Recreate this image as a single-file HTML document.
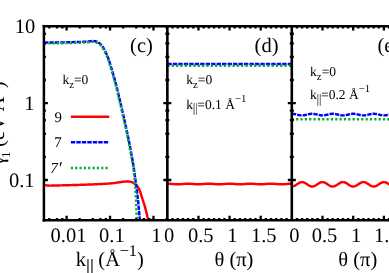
<!DOCTYPE html>
<html><head><meta charset="utf-8"><title>chart</title>
<style>html,body{margin:0;padding:0;background:#fff;overflow:hidden}body{width:389px;height:273px;font-family:"Liberation Serif",serif}.t text{font-family:"Liberation Serif",serif;text-rendering:geometricPrecision}</style></head>
<body>
<svg width="389" height="273" viewBox="0 0 389 273" style="display:block;will-change:transform">
<rect width="389" height="273" fill="#fff"/>
<clipPath id="cp"><rect x="43.9" y="26.15" width="400" height="194.1"/></clipPath>
<g clip-path="url(#cp)" fill="none" stroke-linejoin="round">
<path d="M44.20,185.00 L44.88,185.10 L45.55,185.20 L46.23,185.30 L46.90,185.38 L47.58,185.46 L48.26,185.52 L48.94,185.57 L49.61,185.60 L50.29,185.60 L50.97,185.60 L51.65,185.59 L52.33,185.58 L53.01,185.57 L53.69,185.56 L54.37,185.54 L55.05,185.53 L55.73,185.51 L56.41,185.49 L57.10,185.47 L57.78,185.46 L58.46,185.44 L59.14,185.42 L59.82,185.40 L60.50,185.39 L61.18,185.37 L61.86,185.36 L62.54,185.34 L63.22,185.32 L63.90,185.31 L64.58,185.29 L65.26,185.27 L65.94,185.26 L66.62,185.24 L67.30,185.22 L67.98,185.20 L68.66,185.18 L69.34,185.16 L70.02,185.14 L70.70,185.13 L71.38,185.11 L72.06,185.09 L72.74,185.07 L73.42,185.05 L74.10,185.03 L74.78,185.01 L75.46,184.99 L76.15,184.97 L76.83,184.94 L77.51,184.92 L78.19,184.90 L78.87,184.88 L79.55,184.86 L80.23,184.84 L80.91,184.82 L81.59,184.80 L82.27,184.78 L82.95,184.75 L83.63,184.73 L84.31,184.71 L84.99,184.69 L85.67,184.66 L86.35,184.64 L87.03,184.61 L87.71,184.59 L88.39,184.57 L89.07,184.54 L89.75,184.52 L90.43,184.49 L91.11,184.46 L91.79,184.44 L92.47,184.41 L93.15,184.38 L93.83,184.35 L94.51,184.32 L95.19,184.29 L95.87,184.26 L96.55,184.23 L97.23,184.20 L97.91,184.17 L98.59,184.14 L99.27,184.11 L99.95,184.07 L100.63,184.04 L101.31,184.01 L101.99,183.97 L102.67,183.94 L103.35,183.90 L104.03,183.86 L104.71,183.82 L105.39,183.78 L106.07,183.74 L106.75,183.69 L107.43,183.65 L108.10,183.60 L108.78,183.56 L109.46,183.51 L110.14,183.45 L110.82,183.40 L111.49,183.34 L112.17,183.28 L112.85,183.22 L113.52,183.14 L114.20,183.05 L114.87,182.96 L115.54,182.86 L116.22,182.76 L116.89,182.65 L117.56,182.55 L118.24,182.45 L118.91,182.35 L119.58,182.25 L120.26,182.17 L120.93,182.08 L121.61,181.99 L122.28,181.90 L122.96,181.82 L123.64,181.74 L124.31,181.67 L124.99,181.60 L125.67,181.54 L126.35,181.47 L127.03,181.42 L127.70,181.40 L128.38,181.42 L129.07,181.50 L129.74,181.62 L130.41,181.76 L131.06,181.92 L131.71,182.12 L132.34,182.38 L132.96,182.69 L133.56,183.03 L134.13,183.38 L134.69,183.77 L135.24,184.19 L135.76,184.65 L136.25,185.13 L136.69,185.62 L137.12,186.13 L137.53,186.67 L137.93,187.23 L138.32,187.81 L138.68,188.41 L139.02,189.01 L139.34,189.62 L139.63,190.23 L139.90,190.84 L140.14,191.46 L140.36,192.10 L140.56,192.75 L140.76,193.40 L140.94,194.06 L141.13,194.72 L141.31,195.39 L141.50,196.05 L141.70,196.70 L141.91,197.35 L142.12,197.99 L142.33,198.64 L142.54,199.29 L142.76,199.93 L142.98,200.58 L143.19,201.23 L143.41,201.87 L143.62,202.52 L143.84,203.17 L144.04,203.81 L144.25,204.46 L144.45,205.11 L144.65,205.76 L144.84,206.41 L145.02,207.07 L145.20,207.72 L145.37,208.38 L145.55,209.04 L145.72,209.70 L145.89,210.35 L146.06,211.01 L146.23,211.67 L146.39,212.34 L146.55,213.00 L146.71,213.66 L146.86,214.32 L147.02,214.99 L147.17,215.65 L147.32,216.32 L147.47,216.98 L147.61,217.65 L147.75,218.31 L147.89,218.98 L148.03,219.64 L148.16,220.31 L148.29,220.98 L148.42,221.65 L148.54,222.32 L148.66,222.99 L148.78,223.66 L148.89,224.33 L149.00,225.00" stroke="#ff0000" stroke-width="2.45"/>
<path d="M167.35,183.70 L167.98,183.71 L168.60,183.72 L169.23,183.75 L169.85,183.78 L170.48,183.82 L171.10,183.87 L171.73,183.93 L172.35,183.98 L172.98,184.04 L173.60,184.10 L174.23,184.15 L174.85,184.19 L175.48,184.23 L176.11,184.26 L176.73,184.29 L177.36,184.30 L177.98,184.30 L178.61,184.29 L179.23,184.27 L179.86,184.24 L180.48,184.20 L181.11,184.16 L181.73,184.10 L182.36,184.05 L182.98,183.99 L183.61,183.94 L184.24,183.88 L184.86,183.83 L185.49,183.79 L186.11,183.75 L186.74,183.72 L187.36,183.71 L187.99,183.70 L188.61,183.70 L189.24,183.72 L189.86,183.74 L190.49,183.78 L191.11,183.82 L191.74,183.87 L192.37,183.92 L192.99,183.97 L193.62,184.03 L194.24,184.09 L194.87,184.14 L195.49,184.19 L196.12,184.23 L196.74,184.26 L197.37,184.28 L197.99,184.30 L198.62,184.30 L199.24,184.29 L199.87,184.27 L200.49,184.24 L201.12,184.21 L201.75,184.16 L202.37,184.11 L203.00,184.06 L203.62,184.00 L204.25,183.95 L204.87,183.89 L205.50,183.84 L206.12,183.80 L206.75,183.76 L207.37,183.73 L208.00,183.71 L208.62,183.70 L209.25,183.70 L209.88,183.71 L210.50,183.74 L211.13,183.77 L211.75,183.81 L212.38,183.86 L213.00,183.91 L213.63,183.96 L214.25,184.02 L214.88,184.08 L215.50,184.13 L216.13,184.18 L216.75,184.22 L217.38,184.26 L218.01,184.28 L218.63,184.30 L219.26,184.30 L219.88,184.29 L220.51,184.28 L221.13,184.25 L221.76,184.21 L222.38,184.17 L223.01,184.12 L223.63,184.07 L224.26,184.01 L224.88,183.96 L225.51,183.90 L226.14,183.85 L226.76,183.80 L227.39,183.76 L228.01,183.73 L228.64,183.71 L229.26,183.70 L229.89,183.70 L230.51,183.71 L231.14,183.73 L231.76,183.76 L232.39,183.80 L233.01,183.85 L233.64,183.90 L234.27,183.96 L234.89,184.01 L235.52,184.07 L236.14,184.12 L236.77,184.17 L237.39,184.21 L238.02,184.25 L238.64,184.28 L239.27,184.29 L239.89,184.30 L240.52,184.30 L241.14,184.28 L241.77,184.26 L242.40,184.22 L243.02,184.18 L243.65,184.13 L244.27,184.08 L244.90,184.02 L245.52,183.96 L246.15,183.91 L246.77,183.86 L247.40,183.81 L248.02,183.77 L248.65,183.74 L249.27,183.71 L249.90,183.70 L250.53,183.70 L251.15,183.71 L251.78,183.73 L252.40,183.76 L253.03,183.80 L253.65,183.84 L254.28,183.89 L254.90,183.95 L255.53,184.00 L256.15,184.06 L256.78,184.11 L257.40,184.16 L258.03,184.21 L258.66,184.24 L259.28,184.27 L259.91,184.29 L260.53,184.30 L261.16,184.30 L261.78,184.28 L262.41,184.26 L263.03,184.23 L263.66,184.19 L264.28,184.14 L264.91,184.09 L265.53,184.03 L266.16,183.97 L266.78,183.92 L267.41,183.87 L268.04,183.82 L268.66,183.78 L269.29,183.74 L269.91,183.72 L270.54,183.70 L271.16,183.70 L271.79,183.71 L272.41,183.72 L273.04,183.75 L273.66,183.79 L274.29,183.83 L274.91,183.88 L275.54,183.94 L276.17,183.99 L276.79,184.05 L277.42,184.10 L278.04,184.16 L278.67,184.20 L279.29,184.24 L279.92,184.27 L280.54,184.29 L281.17,184.30 L281.79,184.30 L282.42,184.29 L283.04,184.26 L283.67,184.23 L284.30,184.19 L284.92,184.15 L285.55,184.10 L286.17,184.04 L286.80,183.98 L287.42,183.93 L288.05,183.87 L288.67,183.82 L289.30,183.78 L289.92,183.75 L290.55,183.72 L291.17,183.71 L291.80,183.70" stroke="#ff0000" stroke-width="2.45"/>
<path d="M291.80,186.50 L292.42,186.46 L293.03,186.34 L293.65,186.15 L294.27,185.90 L294.89,185.58 L295.50,185.23 L296.12,184.83 L296.74,184.42 L297.35,184.01 L297.97,183.60 L298.59,183.22 L299.21,182.88 L299.82,182.59 L300.44,182.36 L301.06,182.20 L301.67,182.11 L302.29,182.11 L302.91,182.18 L303.52,182.33 L304.14,182.54 L304.76,182.83 L305.38,183.16 L305.99,183.53 L306.61,183.94 L307.23,184.35 L307.84,184.77 L308.46,185.16 L309.08,185.53 L309.70,185.85 L310.31,186.12 L310.93,186.32 L311.55,186.45 L312.16,186.50 L312.78,186.47 L313.40,186.37 L314.02,186.19 L314.63,185.94 L315.25,185.64 L315.87,185.29 L316.48,184.90 L317.10,184.49 L317.72,184.07 L318.33,183.67 L318.95,183.28 L319.57,182.93 L320.19,182.63 L320.80,182.39 L321.42,182.22 L322.04,182.12 L322.65,182.10 L323.27,182.16 L323.89,182.30 L324.51,182.50 L325.12,182.78 L325.74,183.10 L326.36,183.47 L326.97,183.87 L327.59,184.28 L328.21,184.70 L328.83,185.10 L329.44,185.47 L330.06,185.80 L330.68,186.08 L331.29,186.29 L331.91,186.43 L332.53,186.50 L333.14,186.48 L333.76,186.39 L334.38,186.23 L335.00,185.99 L335.61,185.69 L336.23,185.35 L336.85,184.97 L337.46,184.56 L338.08,184.14 L338.70,183.73 L339.32,183.34 L339.93,182.99 L340.55,182.68 L341.17,182.43 L341.78,182.24 L342.40,182.13 L343.02,182.10 L343.64,182.15 L344.25,182.27 L344.87,182.46 L345.49,182.73 L346.10,183.04 L346.72,183.41 L347.34,183.80 L347.95,184.21 L348.57,184.63 L349.19,185.03 L349.81,185.41 L350.42,185.75 L351.04,186.03 L351.66,186.26 L352.27,186.41 L352.89,186.49 L353.51,186.49 L354.13,186.41 L354.74,186.26 L355.36,186.03 L355.98,185.75 L356.59,185.41 L357.21,185.03 L357.83,184.63 L358.45,184.21 L359.06,183.80 L359.68,183.41 L360.30,183.04 L360.91,182.73 L361.53,182.46 L362.15,182.27 L362.76,182.15 L363.38,182.10 L364.00,182.13 L364.62,182.24 L365.23,182.43 L365.85,182.68 L366.47,182.99 L367.08,183.34 L367.70,183.73 L368.32,184.14 L368.94,184.56 L369.55,184.97 L370.17,185.35 L370.79,185.69 L371.40,185.99 L372.02,186.23 L372.64,186.39 L373.26,186.48 L373.87,186.50 L374.49,186.43 L375.11,186.29 L375.72,186.08 L376.34,185.80 L376.96,185.47 L377.57,185.10 L378.19,184.70 L378.81,184.28 L379.43,183.87 L380.04,183.47 L380.66,183.10 L381.28,182.78 L381.89,182.50 L382.51,182.30 L383.13,182.16 L383.75,182.10 L384.36,182.12 L384.98,182.22 L385.60,182.39 L386.21,182.63 L386.83,182.93 L387.45,183.28 L388.07,183.67 L388.68,184.07 L389.30,184.49 L389.92,184.90 L390.53,185.29 L391.15,185.64 L391.77,185.94 L392.38,186.19 L393.00,186.37 L393.62,186.47 L394.24,186.50 L394.85,186.45 L395.47,186.32 L396.09,186.12 L396.70,185.85 L397.32,185.53 L397.94,185.16 L398.56,184.77 L399.17,184.35 L399.79,183.94 L400.41,183.53 L401.02,183.16 L401.64,182.83 L402.26,182.54 L402.88,182.33 L403.49,182.18 L404.11,182.11 L404.73,182.11 L405.34,182.20 L405.96,182.36 L406.58,182.59 L407.19,182.88 L407.81,183.22 L408.43,183.60 L409.05,184.01 L409.66,184.42 L410.28,184.83 L410.90,185.23 L411.51,185.58 L412.13,185.90 L412.75,186.15 L413.37,186.34 L413.98,186.46 L414.60,186.50" stroke="#ff0000" stroke-width="2.45"/>
<path d="M43.90,42.60 L44.72,42.60 L45.53,42.59 L46.35,42.59 L47.16,42.58 L47.98,42.57 L48.79,42.57 L49.61,42.56 L50.42,42.55 L51.24,42.54 L52.05,42.53 L52.87,42.52 L53.68,42.52 L54.50,42.51 L55.31,42.50 L56.13,42.49 L56.94,42.47 L57.76,42.46 L58.57,42.45 L59.39,42.43 L60.20,42.42 L61.02,42.40 L61.84,42.39 L62.65,42.37 L63.47,42.35 L64.28,42.34 L65.10,42.32 L65.91,42.30 L66.73,42.28 L67.54,42.27 L68.36,42.25 L69.17,42.23 L69.99,42.21 L70.80,42.19 L71.62,42.16 L72.43,42.14 L73.25,42.12 L74.06,42.09 L74.88,42.07 L75.69,42.04 L76.51,42.02 L77.32,41.99 L78.14,41.96 L78.95,41.93 L79.77,41.90 L80.58,41.87 L81.40,41.84 L82.21,41.81 L83.03,41.77 L83.84,41.73 L84.65,41.69 L85.47,41.65 L86.28,41.61 L87.10,41.56 L87.91,41.51 L88.72,41.44 L89.53,41.34 L90.35,41.22 L91.16,41.12 L91.97,41.04 L92.78,41.00 L93.59,41.03 L94.41,41.14 L95.22,41.30 L96.01,41.50 L96.77,41.72 L97.52,42.04 L98.25,42.44 L98.95,42.90 L99.60,43.37 L100.21,43.89 L100.80,44.48 L101.35,45.09 L101.87,45.73 L102.35,46.37 L102.82,47.03 L103.27,47.72 L103.69,48.42 L104.11,49.13 L104.50,49.85 L104.88,50.57 L105.25,51.29 L105.61,52.02 L105.96,52.76 L106.30,53.50 L106.63,54.25 L106.96,55.00 L107.27,55.75 L107.58,56.51 L107.88,57.27 L108.17,58.04 L108.45,58.80 L108.73,59.56 L109.00,60.33 L109.26,61.10 L109.51,61.87 L109.76,62.65 L110.00,63.43 L110.24,64.21 L110.47,64.99 L110.70,65.78 L110.93,66.56 L111.16,67.34 L111.39,68.13 L111.62,68.91 L111.86,69.69 L112.09,70.47 L112.33,71.25 L112.56,72.03 L112.80,72.82 L113.03,73.60 L113.26,74.38 L113.49,75.16 L113.72,75.94 L113.95,76.73 L114.17,77.51 L114.39,78.29 L114.61,79.08 L114.83,79.87 L115.04,80.65 L115.25,81.44 L115.46,82.23 L115.67,83.02 L115.87,83.80 L116.07,84.59 L116.28,85.38 L116.48,86.17 L116.68,86.96 L116.87,87.75 L117.07,88.55 L117.27,89.34 L117.46,90.13 L117.66,90.92 L117.85,91.71 L118.04,92.51 L118.23,93.30 L118.42,94.09 L118.61,94.88 L118.80,95.68 L118.99,96.47 L119.17,97.27 L119.36,98.06 L119.55,98.85 L119.73,99.65 L119.92,100.44 L120.10,101.24 L120.29,102.03 L120.47,102.83 L120.66,103.62 L120.84,104.41 L121.02,105.21 L121.21,106.00 L121.39,106.80 L121.57,107.59 L121.76,108.39 L121.94,109.18 L122.13,109.97 L122.31,110.77 L122.49,111.56 L122.68,112.36 L122.86,113.15 L123.04,113.95 L123.22,114.74 L123.41,115.54 L123.59,116.33 L123.77,117.13 L123.95,117.92 L124.13,118.72 L124.31,119.51 L124.49,120.31 L124.67,121.10 L124.85,121.90 L125.03,122.69 L125.21,123.49 L125.38,124.29 L125.56,125.08 L125.74,125.88 L125.91,126.67 L126.09,127.47 L126.26,128.27 L126.43,129.06 L126.60,129.86 L126.78,130.66 L126.95,131.45 L127.12,132.25 L127.28,133.05 L127.45,133.85 L127.62,134.65 L127.79,135.44 L127.95,136.24 L128.11,137.04 L128.28,137.84 L128.44,138.64 L128.60,139.44 L128.76,140.24 L128.92,141.04 L129.08,141.84 L129.24,142.64 L129.39,143.44 L129.55,144.24 L129.71,145.04 L129.86,145.84 L130.01,146.64 L130.17,147.44 L130.32,148.24 L130.47,149.04 L130.62,149.84 L130.77,150.64 L130.92,151.45 L131.06,152.25 L131.21,153.05 L131.35,153.85 L131.50,154.65 L131.65,155.46 L131.79,156.26 L131.93,157.06 L132.08,157.86 L132.22,158.67 L132.36,159.47 L132.50,160.27 L132.65,161.08 L132.78,161.88 L132.92,162.68 L133.06,163.49 L133.19,164.29 L133.33,165.10 L133.46,165.90 L133.59,166.71 L133.72,167.51 L133.84,168.32 L133.97,169.12 L134.09,169.93 L134.21,170.73 L134.33,171.54 L134.44,172.35 L134.55,173.15 L134.67,173.96 L134.78,174.77 L134.89,175.58 L134.99,176.39 L135.10,177.19 L135.20,178.00 L135.31,178.81 L135.41,179.62 L135.52,180.43 L135.62,181.24 L135.72,182.05 L135.83,182.86 L135.93,183.66 L136.03,184.47 L136.14,185.28 L136.24,186.09 L136.34,186.90 L136.45,187.71 L136.55,188.52 L136.66,189.33 L136.76,190.13 L136.87,190.94 L136.97,191.75 L137.08,192.56 L137.18,193.37 L137.28,194.18 L137.38,194.99 L137.48,195.80 L137.58,196.61 L137.68,197.42 L137.77,198.22 L137.87,199.03 L137.96,199.84 L138.05,200.65 L138.14,201.46 L138.23,202.28 L138.31,203.09 L138.40,203.90 L138.48,204.71 L138.56,205.52 L138.64,206.33 L138.72,207.14 L138.79,207.95 L138.87,208.77 L138.94,209.58 L139.02,210.39 L139.09,211.20 L139.16,212.01 L139.24,212.83 L139.31,213.64 L139.38,214.45 L139.46,215.26 L139.53,216.07 L139.60,216.89 L139.68,217.70 L139.76,218.51 L139.83,219.32 L139.91,220.13 L139.99,220.94 L140.07,221.76 L140.15,222.57 L140.24,223.38 L140.32,224.19 L140.40,225.00" stroke="#0000ff" stroke-width="2.45" stroke-dasharray="4.4 1.07"/>
<path d="M43.90,43.40 L44.71,43.40 L45.52,43.39 L46.33,43.39 L47.14,43.38 L47.95,43.37 L48.77,43.37 L49.58,43.36 L50.39,43.35 L51.20,43.34 L52.01,43.33 L52.82,43.33 L53.63,43.32 L54.44,43.31 L55.25,43.30 L56.06,43.29 L56.87,43.27 L57.68,43.26 L58.49,43.25 L59.31,43.24 L60.12,43.22 L60.93,43.21 L61.74,43.19 L62.55,43.17 L63.36,43.16 L64.17,43.14 L64.98,43.12 L65.79,43.10 L66.60,43.09 L67.41,43.07 L68.22,43.05 L69.03,43.03 L69.84,43.01 L70.65,42.99 L71.47,42.97 L72.28,42.95 L73.09,42.92 L73.90,42.90 L74.71,42.87 L75.52,42.85 L76.33,42.82 L77.14,42.80 L77.95,42.77 L78.76,42.74 L79.57,42.71 L80.38,42.68 L81.19,42.65 L82.00,42.62 L82.81,42.58 L83.62,42.55 L84.43,42.51 L85.24,42.47 L86.05,42.42 L86.86,42.37 L87.67,42.32 L88.48,42.26 L89.29,42.16 L90.09,42.05 L90.90,41.94 L91.71,41.85 L92.51,41.80 L93.32,41.83 L94.13,41.94 L94.93,42.10 L95.72,42.30 L96.48,42.52 L97.22,42.84 L97.95,43.24 L98.65,43.69 L99.30,44.14 L99.93,44.65 L100.53,45.21 L101.10,45.81 L101.62,46.42 L102.10,47.06 L102.56,47.72 L103.00,48.41 L103.42,49.11 L103.82,49.83 L104.21,50.55 L104.58,51.26 L104.95,51.98 L105.30,52.71 L105.65,53.44 L105.99,54.18 L106.32,54.92 L106.64,55.67 L106.95,56.42 L107.25,57.18 L107.55,57.94 L107.84,58.69 L108.12,59.45 L108.39,60.21 L108.65,60.98 L108.91,61.75 L109.16,62.52 L109.40,63.29 L109.64,64.07 L109.87,64.84 L110.10,65.62 L110.33,66.40 L110.56,67.18 L110.79,67.96 L111.01,68.74 L111.25,69.52 L111.48,70.30 L111.71,71.07 L111.95,71.85 L112.18,72.63 L112.41,73.40 L112.64,74.18 L112.87,74.96 L113.10,75.74 L113.33,76.51 L113.55,77.29 L113.77,78.07 L113.99,78.85 L114.21,79.64 L114.42,80.42 L114.63,81.20 L114.84,81.98 L115.05,82.77 L115.25,83.55 L115.46,84.33 L115.66,85.12 L115.86,85.90 L116.06,86.69 L116.26,87.48 L116.46,88.26 L116.65,89.05 L116.85,89.84 L117.04,90.62 L117.24,91.41 L117.43,92.20 L117.62,92.99 L117.81,93.78 L118.00,94.57 L118.19,95.35 L118.38,96.14 L118.56,96.93 L118.75,97.72 L118.94,98.51 L119.12,99.30 L119.31,100.09 L119.49,100.88 L119.68,101.67 L119.86,102.46 L120.04,103.25 L120.23,104.04 L120.41,104.83 L120.59,105.62 L120.78,106.41 L120.96,107.20 L121.14,107.99 L121.33,108.78 L121.51,109.57 L121.69,110.36 L121.87,111.15 L122.06,111.94 L122.24,112.73 L122.42,113.52 L122.60,114.31 L122.79,115.10 L122.97,115.89 L123.15,116.68 L123.33,117.47 L123.51,118.26 L123.69,119.05 L123.87,119.84 L124.05,120.64 L124.22,121.43 L124.40,122.22 L124.58,123.01 L124.76,123.80 L124.93,124.59 L125.11,125.38 L125.28,126.18 L125.45,126.97 L125.63,127.76 L125.80,128.55 L125.97,129.34 L126.14,130.14 L126.31,130.93 L126.48,131.72 L126.65,132.52 L126.82,133.31 L126.99,134.10 L127.15,134.90 L127.32,135.69 L127.48,136.48 L127.64,137.28 L127.80,138.07 L127.97,138.87 L128.13,139.66 L128.28,140.46 L128.44,141.25 L128.60,142.05 L128.76,142.84 L128.91,143.64 L129.07,144.44 L129.22,145.23 L129.38,146.03 L129.53,146.82 L129.68,147.62 L129.83,148.42 L129.98,149.21 L130.13,150.01 L130.28,150.81 L130.43,151.61 L130.57,152.40 L130.72,153.20 L130.86,154.00 L131.01,154.80 L131.16,155.59 L131.31,156.39 L131.46,157.19 L131.61,157.99 L131.76,158.78 L131.91,159.58 L132.06,160.38 L132.20,161.18 L132.35,161.98 L132.49,162.78 L132.63,163.58 L132.76,164.38 L132.90,165.18 L133.02,165.98 L133.15,166.78 L133.27,167.58 L133.38,168.38 L133.49,169.18 L133.60,169.98 L133.70,170.79 L133.80,171.59 L133.89,172.40 L133.98,173.20 L134.08,174.01 L134.17,174.81 L134.25,175.62 L134.34,176.43 L134.42,177.23 L134.50,178.04 L134.58,178.85 L134.65,179.66 L134.73,180.46 L134.80,181.27 L134.87,182.08 L134.94,182.89 L135.00,183.70 L135.06,184.51 L135.12,185.31 L135.18,186.12 L135.24,186.93 L135.30,187.74 L135.35,188.55 L135.40,189.36 L135.46,190.17 L135.51,190.98 L135.56,191.79 L135.61,192.60 L135.65,193.40 L135.70,194.21 L135.74,195.02 L135.79,195.83 L135.83,196.64 L135.88,197.45 L135.92,198.26 L135.96,199.07 L136.00,199.88 L136.04,200.69 L136.08,201.50 L136.11,202.31 L136.15,203.12 L136.19,203.93 L136.22,204.74 L136.26,205.55 L136.29,206.36 L136.32,207.17 L136.35,207.98 L136.38,208.79 L136.41,209.60 L136.45,210.41 L136.47,211.23 L136.50,212.04 L136.53,212.85 L136.56,213.66 L136.59,214.47 L136.62,215.28 L136.65,216.09 L136.68,216.90 L136.71,217.71 L136.74,218.52 L136.77,219.33 L136.81,220.14 L136.84,220.95 L136.87,221.76 L136.90,222.57 L136.93,223.38 L136.97,224.19 L137.00,225.00" stroke="#00ab30" stroke-width="2.45" stroke-dasharray="2.17 2.17"/>
<path d="M167.35,63.9 L291.8,63.9" stroke="#0000ff" stroke-width="2.45" stroke-dasharray="4.4 1.07"/>
<path d="M167.35,65.7 L291.8,65.7" stroke="#00ab30" stroke-width="2.45" stroke-dasharray="2.17 2.17"/>
<path d="M291.80,113.80 L292.42,113.81 L293.03,113.86 L293.65,113.93 L294.27,114.02 L294.89,114.13 L295.50,114.26 L296.12,114.41 L296.74,114.56 L297.35,114.71 L297.97,114.85 L298.59,114.99 L299.21,115.12 L299.82,115.22 L300.44,115.31 L301.06,115.36 L301.67,115.40 L302.29,115.40 L302.91,115.37 L303.52,115.32 L304.14,115.24 L304.76,115.14 L305.38,115.01 L305.99,114.88 L306.61,114.73 L307.23,114.58 L307.84,114.43 L308.46,114.29 L309.08,114.15 L309.70,114.04 L310.31,113.94 L310.93,113.87 L311.55,113.82 L312.16,113.80 L312.78,113.81 L313.40,113.85 L314.02,113.91 L314.63,114.00 L315.25,114.11 L315.87,114.24 L316.48,114.38 L317.10,114.53 L317.72,114.68 L318.33,114.83 L318.95,114.97 L319.57,115.10 L320.19,115.21 L320.80,115.29 L321.42,115.36 L322.04,115.39 L322.65,115.40 L323.27,115.38 L323.89,115.33 L324.51,115.25 L325.12,115.15 L325.74,115.04 L326.36,114.90 L326.97,114.76 L327.59,114.61 L328.21,114.46 L328.83,114.31 L329.44,114.17 L330.06,114.05 L330.68,113.95 L331.29,113.88 L331.91,113.83 L332.53,113.80 L333.14,113.81 L333.76,113.84 L334.38,113.90 L335.00,113.99 L335.61,114.09 L336.23,114.22 L336.85,114.36 L337.46,114.51 L338.08,114.66 L338.70,114.81 L339.32,114.95 L339.93,115.08 L340.55,115.19 L341.17,115.28 L341.78,115.35 L342.40,115.39 L343.02,115.40 L343.64,115.38 L344.25,115.34 L344.87,115.27 L345.49,115.17 L346.10,115.06 L346.72,114.93 L347.34,114.78 L347.95,114.63 L348.57,114.48 L349.19,114.33 L349.81,114.20 L350.42,114.07 L351.04,113.97 L351.66,113.89 L352.27,113.83 L352.89,113.80 L353.51,113.80 L354.13,113.83 L354.74,113.89 L355.36,113.97 L355.98,114.07 L356.59,114.20 L357.21,114.33 L357.83,114.48 L358.45,114.63 L359.06,114.78 L359.68,114.93 L360.30,115.06 L360.91,115.17 L361.53,115.27 L362.15,115.34 L362.76,115.38 L363.38,115.40 L364.00,115.39 L364.62,115.35 L365.23,115.28 L365.85,115.19 L366.47,115.08 L367.08,114.95 L367.70,114.81 L368.32,114.66 L368.94,114.51 L369.55,114.36 L370.17,114.22 L370.79,114.09 L371.40,113.99 L372.02,113.90 L372.64,113.84 L373.26,113.81 L373.87,113.80 L374.49,113.83 L375.11,113.88 L375.72,113.95 L376.34,114.05 L376.96,114.17 L377.57,114.31 L378.19,114.46 L378.81,114.61 L379.43,114.76 L380.04,114.90 L380.66,115.04 L381.28,115.15 L381.89,115.25 L382.51,115.33 L383.13,115.38 L383.75,115.40 L384.36,115.39 L384.98,115.36 L385.60,115.29 L386.21,115.21 L386.83,115.10 L387.45,114.97 L388.07,114.83 L388.68,114.68 L389.30,114.53 L389.92,114.38 L390.53,114.24 L391.15,114.11 L391.77,114.00 L392.38,113.91 L393.00,113.85 L393.62,113.81 L394.24,113.80 L394.85,113.82 L395.47,113.87 L396.09,113.94 L396.70,114.04 L397.32,114.15 L397.94,114.29 L398.56,114.43 L399.17,114.58 L399.79,114.73 L400.41,114.88 L401.02,115.01 L401.64,115.14 L402.26,115.24 L402.88,115.32 L403.49,115.37 L404.11,115.40 L404.73,115.40 L405.34,115.36 L405.96,115.31 L406.58,115.22 L407.19,115.12 L407.81,114.99 L408.43,114.85 L409.05,114.71 L409.66,114.56 L410.28,114.41 L410.90,114.26 L411.51,114.13 L412.13,114.02 L412.75,113.93 L413.37,113.86 L413.98,113.81 L414.60,113.80" stroke="#0000ff" stroke-width="2.45" stroke-dasharray="4.4 1.07"/>
<path d="M291.8,119.3 L416.3,119.3" stroke="#00ab30" stroke-width="2.45" stroke-dasharray="2.17 2.17"/>
</g>
<path d="M70.9,116.8 H109.2" stroke="#ff0000" stroke-width="2.45"/>
<path d="M70.9,142.3 H109.3" stroke="#0000ff" stroke-width="2.45" stroke-dasharray="4.4 1.07"/>
<path d="M70.8,168 H108.2" stroke="#00ab30" stroke-width="2.45" stroke-dasharray="2.17 2.17"/>
<path d="M43.90,103.15 h4.00 M167.35,103.15 h-4.00 M167.35,103.15 h4.00 M291.80,103.15 h-4.00 M291.80,103.15 h4.00 M43.90,80.02 h2.00 M167.35,80.02 h-2.00 M167.35,80.02 h2.00 M291.80,80.02 h-2.00 M291.80,80.02 h2.00 M43.90,56.88 h2.00 M167.35,56.88 h-2.00 M167.35,56.88 h2.00 M291.80,56.88 h-2.00 M291.80,56.88 h2.00 M43.90,43.35 h2.00 M167.35,43.35 h-2.00 M167.35,43.35 h2.00 M291.80,43.35 h-2.00 M291.80,43.35 h2.00 M43.90,33.75 h2.00 M167.35,33.75 h-2.00 M167.35,33.75 h2.00 M291.80,33.75 h-2.00 M291.80,33.75 h2.00 M43.90,180.00 h4.00 M167.35,180.00 h-4.00 M167.35,180.00 h4.00 M291.80,180.00 h-4.00 M291.80,180.00 h4.00 M43.90,156.87 h2.00 M167.35,156.87 h-2.00 M167.35,156.87 h2.00 M291.80,156.87 h-2.00 M291.80,156.87 h2.00 M43.90,133.73 h2.00 M167.35,133.73 h-2.00 M167.35,133.73 h2.00 M291.80,133.73 h-2.00 M291.80,133.73 h2.00 M43.90,120.20 h2.00 M167.35,120.20 h-2.00 M167.35,120.20 h2.00 M291.80,120.20 h-2.00 M291.80,120.20 h2.00 M43.90,110.60 h2.00 M167.35,110.60 h-2.00 M167.35,110.60 h2.00 M291.80,110.60 h-2.00 M291.80,110.60 h2.00 M49.31,220.25 v-2.30 M49.31,26.15 v2.30 M56.96,220.25 v-2.30 M56.96,26.15 v2.30 M62.39,220.25 v-2.30 M62.39,26.15 v2.30 M66.60,220.25 v-4.40 M66.60,26.15 v4.40 M79.68,220.25 v-2.30 M79.68,26.15 v2.30 M92.76,220.25 v-2.30 M92.76,26.15 v2.30 M100.41,220.25 v-2.30 M100.41,26.15 v2.30 M105.84,220.25 v-2.30 M105.84,26.15 v2.30 M110.05,220.25 v-4.40 M110.05,26.15 v4.40 M123.13,220.25 v-2.30 M123.13,26.15 v2.30 M136.21,220.25 v-2.30 M136.21,26.15 v2.30 M143.86,220.25 v-2.30 M143.86,26.15 v2.30 M149.29,220.25 v-2.30 M149.29,26.15 v2.30 M153.50,220.25 v-4.40 M153.50,26.15 v4.40 M166.58,220.25 v-2.30 M166.58,26.15 v2.30 M172.54,220.25 v-2.30 M172.54,26.15 v2.30 M177.72,220.25 v-2.30 M177.72,26.15 v2.30 M182.91,220.25 v-2.30 M182.91,26.15 v2.30 M188.09,220.25 v-2.30 M188.09,26.15 v2.30 M193.28,220.25 v-2.30 M193.28,26.15 v2.30 M198.46,220.25 v-4.40 M198.46,26.15 v4.40 M203.65,220.25 v-2.30 M203.65,26.15 v2.30 M208.83,220.25 v-2.30 M208.83,26.15 v2.30 M214.02,220.25 v-2.30 M214.02,26.15 v2.30 M219.20,220.25 v-2.30 M219.20,26.15 v2.30 M224.39,220.25 v-2.30 M224.39,26.15 v2.30 M229.57,220.25 v-4.40 M229.57,26.15 v4.40 M234.76,220.25 v-2.30 M234.76,26.15 v2.30 M239.95,220.25 v-2.30 M239.95,26.15 v2.30 M245.13,220.25 v-2.30 M245.13,26.15 v2.30 M250.32,220.25 v-2.30 M250.32,26.15 v2.30 M255.50,220.25 v-2.30 M255.50,26.15 v2.30 M260.69,220.25 v-4.40 M260.69,26.15 v4.40 M265.87,220.25 v-2.30 M265.87,26.15 v2.30 M271.06,220.25 v-2.30 M271.06,26.15 v2.30 M276.24,220.25 v-2.30 M276.24,26.15 v2.30 M281.43,220.25 v-2.30 M281.43,26.15 v2.30 M286.61,220.25 v-2.30 M286.61,26.15 v2.30 M296.99,220.25 v-2.30 M296.99,26.15 v2.30 M302.17,220.25 v-2.30 M302.17,26.15 v2.30 M307.36,220.25 v-2.30 M307.36,26.15 v2.30 M312.54,220.25 v-2.30 M312.54,26.15 v2.30 M317.73,220.25 v-2.30 M317.73,26.15 v2.30 M296.92,220.25 v-2.30 M296.92,26.15 v2.30 M302.03,220.25 v-2.30 M302.03,26.15 v2.30 M307.15,220.25 v-2.30 M307.15,26.15 v2.30 M312.27,220.25 v-2.30 M312.27,26.15 v2.30 M317.38,220.25 v-2.30 M317.38,26.15 v2.30 M322.50,220.25 v-4.40 M322.50,26.15 v4.40 M327.62,220.25 v-2.30 M327.62,26.15 v2.30 M332.73,220.25 v-2.30 M332.73,26.15 v2.30 M337.85,220.25 v-2.30 M337.85,26.15 v2.30 M342.97,220.25 v-2.30 M342.97,26.15 v2.30 M348.08,220.25 v-2.30 M348.08,26.15 v2.30 M353.20,220.25 v-4.40 M353.20,26.15 v4.40 M358.32,220.25 v-2.30 M358.32,26.15 v2.30 M363.43,220.25 v-2.30 M363.43,26.15 v2.30 M368.55,220.25 v-2.30 M368.55,26.15 v2.30 M373.67,220.25 v-2.30 M373.67,26.15 v2.30 M378.78,220.25 v-2.30 M378.78,26.15 v2.30 M383.90,220.25 v-4.40 M383.90,26.15 v4.40 M389.02,220.25 v-2.30 M389.02,26.15 v2.30" stroke="#000" stroke-width="2.3" fill="none"/>
<path d="M43.9,24.9 V221.6" stroke="#000" stroke-width="2.5"/>
<path d="M42.65,26.15 H400" stroke="#000" stroke-width="2.5"/>
<path d="M42.65,220.25 H400" stroke="#000" stroke-width="2.7"/>
<path d="M167.35,26.15 V220.25 M291.8,26.15 V220.25" stroke="#000" stroke-width="2.6"/>
<g class="t" fill="#000">
<text x="35.2" y="33.2" font-size="20.5" text-anchor="end" >10</text>
<text x="34.5" y="109.9" font-size="20.5" text-anchor="end" >1</text>
<text x="34.5" y="186.8" font-size="20.5" text-anchor="end" >0.1</text>
<text x="68.5" y="241.6" font-size="20.5" text-anchor="middle" >0.01</text>
<text x="111.9" y="241.6" font-size="20.5" text-anchor="middle" >0.1</text>
<text x="156.3" y="241.6" font-size="20.5" text-anchor="middle" >1</text>
<text x="169.2" y="241.6" font-size="20.5" text-anchor="middle" >0</text>
<text x="200.8" y="241.6" font-size="20.5" text-anchor="middle" >0.5</text>
<text x="232.4" y="241.6" font-size="20.5" text-anchor="middle" >1</text>
<text x="263.7" y="241.6" font-size="20.5" text-anchor="middle" >1.5</text>
<text x="294.3" y="241.6" font-size="20.5" text-anchor="middle" >0</text>
<text x="324.5" y="241.6" font-size="20.5" text-anchor="middle" >0.5</text>
<text x="356.0" y="241.6" font-size="20.5" text-anchor="middle" >1</text>
<text x="386.9" y="241.6" font-size="20.5" text-anchor="middle" >1.5</text>
<text x="130.1" y="52.3" font-size="20.5" text-anchor="start" >(c)</text>
<text x="254.6" y="52.3" font-size="20.5" text-anchor="start" >(d)</text>
<text x="377.5" y="52.3" font-size="20.5" text-anchor="start" >(e)</text>
<text x="75.8" y="265.5" font-size="20.5">k<tspan font-size="17.0" dy="5.8" dx="0.2" stroke="#000" stroke-width="0.22" letter-spacing="0.5">||</tspan><tspan dy="-5.8" dx="-0.9"> (</tspan><tspan dx="0.1">Å</tspan><tspan font-size="16.4" dy="-9.2" dx="-0.4">−1</tspan><tspan dy="9.2">)</tspan></text>
<text x="214.5" y="265.5" font-size="20.5" text-anchor="start" >θ (π)</text>
<text x="338.3" y="265.5" font-size="20.5" text-anchor="start" >θ (π)</text>
<text x="62.4" y="84.1" font-size="13.5">k<tspan font-size="10.8" dy="3.8">z</tspan><tspan dy="-3.8">=0</tspan></text>
<text x="186.3" y="84.1" font-size="13.5">k<tspan font-size="10.8" dy="3.8">z</tspan><tspan dy="-3.8">=0</tspan></text>
<text x="186.3" y="108.6" font-size="13.5">k<tspan dy="3.6" dx="-0.4" fill="#6a6a6a" font-size="12.6" stroke="#6a6a6a" stroke-width="0.3">||</tspan><tspan dy="-3.6" dx="-0.4">=0.1 Å</tspan><tspan font-size="10.8" dy="-6.6">−1</tspan></text>
<text x="310.1" y="75.7" font-size="13.5">k<tspan font-size="10.8" dy="3.8">z</tspan><tspan dy="-3.8">=0</tspan></text>
<text x="310.1" y="98.9" font-size="13.5">k<tspan dy="3.6" dx="-0.4" fill="#6a6a6a" font-size="12.6" stroke="#6a6a6a" stroke-width="0.3">||</tspan><tspan dy="-3.6" dx="-0.4">=0.2 Å</tspan><tspan font-size="10.8" dy="-6.6">−1</tspan></text>
<text x="62.0" y="121.6" font-size="14.8" text-anchor="end" >9</text>
<text x="61.7" y="147.1" font-size="14.8" text-anchor="end" >7</text>
<text x="50.3" y="172.9" font-size="15.4" font-style="italic">7<tspan font-size="18" dx="-0.3" dy="1.2">′</tspan></text>
<g transform="rotate(-90)">
<text x="-165.2" y="4.2" font-size="20.5">γ</text>
<text x="-157.8" y="9.7" font-size="12.2">1</text>
<text x="-146.9" y="4.2" font-size="20.5">(eV Å</text>
<text x="-96.0" y="-5.999999999999999" font-size="16.4">3</text>
<text x="-88.3" y="4.2" font-size="20.5">)</text>
</g>
</g>
</svg>
</body></html>
